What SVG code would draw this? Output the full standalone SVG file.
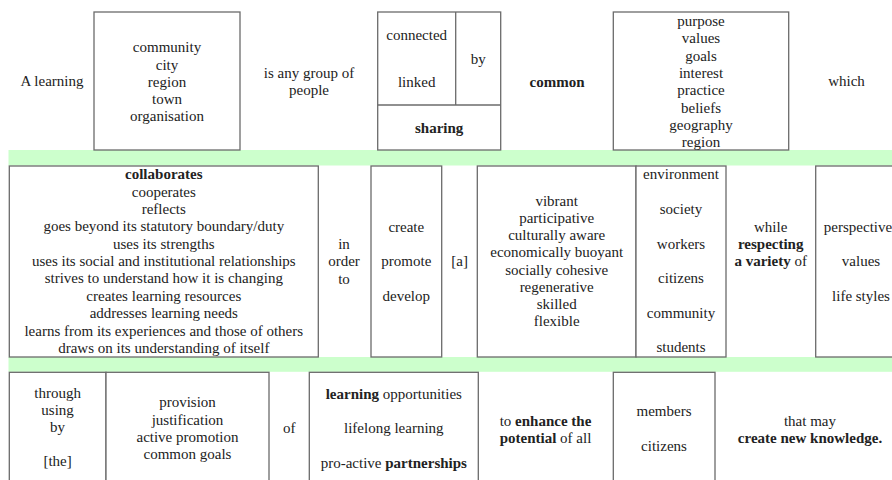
<svg xmlns="http://www.w3.org/2000/svg" width="892" height="480" viewBox="0 0 892 480">
<style>
.box{fill:#fff;stroke:#6b6b6b;stroke-width:1.3}
.ln{fill:none;stroke:#6b6b6b;stroke-width:1.3}
.band{fill:#ccffcc}
.t text{font-size:15px;fill:#222;text-anchor:middle}
.b{font-weight:bold}
</style>
<rect width="892" height="480" fill="#fff"/>
<g id="bands">
<rect class="band" x="8.5" y="150" width="884" height="15.5"/>
<rect class="band" x="8.5" y="357" width="884" height="14.8"/>
</g>
<g class="t" font-family="'Liberation Serif', 'DejaVu Serif', serif">
<!-- Row 1 -->
<g id="t-a-learning"><text x="52" y="86">A learning</text></g>
<g id="n-community">
<rect class="box" x="94" y="12" width="146" height="138"/>
<text x="167" y="52">community</text>
<text x="167" y="69.5">city</text>
<text x="167" y="87">region</text>
<text x="167" y="104">town</text>
<text x="167" y="121">organisation</text>
</g>
<g id="t-group"><text x="309" y="78">is any group of</text><text x="309" y="95">people</text></g>
<g id="n-connected">
<rect class="box" x="377.7" y="12" width="123" height="138"/>
<line class="ln" x1="377.7" y1="105" x2="500.7" y2="105"/>
<line class="ln" x1="455.7" y1="12" x2="455.7" y2="105"/>
<text x="416.7" y="40">connected</text>
<text x="416.7" y="87">linked</text>
<text x="478.2" y="64">by</text>
<text class="b" x="439.2" y="133">sharing</text>
</g>
<g id="t-common"><text class="b" x="557" y="87">common</text></g>
<g id="n-purpose">
<rect class="box" x="613.3" y="12" width="175.4" height="138"/>
<text x="701" y="26">purpose</text>
<text x="701" y="43.3">values</text>
<text x="701" y="60.7">goals</text>
<text x="701" y="78">interest</text>
<text x="701" y="95.3">practice</text>
<text x="701" y="112.6">beliefs</text>
<text x="701" y="130">geography</text>
<text x="701" y="147.3">region</text>
</g>
<g id="t-which"><text x="846.5" y="86">which</text></g>
<!-- Row 2 -->
<g id="n-collaborates">
<rect class="box" x="9.3" y="166" width="309" height="191"/>
<text class="b" x="163.8" y="179.3">collaborates</text>
<text x="163.8" y="196.7">cooperates</text>
<text x="163.8" y="214">reflects</text>
<text x="163.8" y="231.4">goes beyond its statutory boundary/duty</text>
<text x="163.8" y="248.7">uses its strengths</text>
<text x="163.8" y="266">uses its social and institutional relationships</text>
<text x="163.8" y="283.4">strives to understand how it is changing</text>
<text x="163.8" y="300.8">creates learning resources</text>
<text x="163.8" y="318.1">addresses learning needs</text>
<text x="163.8" y="335.5">learns from its experiences and those of others</text>
<text x="163.8" y="352.8">draws on its understanding of itself</text>
</g>
<g id="t-inorder"><text x="344" y="249">in</text><text x="344" y="266.3">order</text><text x="344" y="283.5">to</text></g>
<g id="n-create">
<rect class="box" x="371" y="166" width="70.7" height="191"/>
<text x="406.3" y="231.7">create</text>
<text x="406.3" y="266.3">promote</text>
<text x="406.3" y="300.7">develop</text>
</g>
<g id="t-a"><text x="459.6" y="266.3">[a]</text></g>
<g id="n-vibrant">
<rect class="box" x="477.3" y="166" width="158.7" height="191"/>
<text x="556.7" y="205.8">vibrant</text>
<text x="556.7" y="223">participative</text>
<text x="556.7" y="240.1">culturally aware</text>
<text x="556.7" y="257.3">economically buoyant</text>
<text x="556.7" y="274.5">socially cohesive</text>
<text x="556.7" y="291.6">regenerative</text>
<text x="556.7" y="308.8">skilled</text>
<text x="556.7" y="326">flexible</text>
</g>
<g id="n-environment">
<rect class="box" x="636" y="166" width="90" height="191"/>
<text x="681" y="179.3">environment</text>
<text x="681" y="213.9">society</text>
<text x="681" y="248.5">workers</text>
<text x="681" y="283.1">citizens</text>
<text x="681" y="317.7">community</text>
<text x="681" y="352.3">students</text>
</g>
<g id="t-while">
<text x="770.7" y="231.7">while</text>
<text class="b" x="770.7" y="249">respecting</text>
<text x="770.7" y="266.3"><tspan class="b">a variety</tspan> of</text>
</g>
<g id="n-perspectives">
<rect class="box" x="815.7" y="166" width="90" height="191"/>
<text x="858" y="231.7">perspective</text>
<text x="861" y="266.3">values</text>
<text x="861" y="300.7">life styles</text>
</g>
<!-- Row 3 -->
<g id="n-through">
<rect class="box" x="9.3" y="372.3" width="96.7" height="120"/>
<text x="57.6" y="398">through</text>
<text x="57.6" y="415">using</text>
<text x="57.6" y="432">by</text>
<text x="57.6" y="466">[the]</text>
</g>
<g id="n-provision">
<rect class="box" x="106" y="372.3" width="163" height="120"/>
<text x="187.5" y="407.3">provision</text>
<text x="187.5" y="424.6">justification</text>
<text x="187.5" y="441.9">active promotion</text>
<text x="187.5" y="459.2">common goals</text>
</g>
<g id="t-of"><text x="289.2" y="433.3">of</text></g>
<g id="n-learning">
<rect class="box" x="309.3" y="372.3" width="169" height="120"/>
<text x="393.8" y="398.6"><tspan class="b">learning</tspan> opportunities</text>
<text x="393.8" y="433.2">lifelong learning</text>
<text x="393.8" y="467.8">pro-active <tspan class="b">partnerships</tspan></text>
</g>
<g id="t-enhance">
<text x="545.5" y="425.5">to <tspan class="b">enhance the</tspan></text>
<text x="545.5" y="442.8"><tspan class="b">potential</tspan> of all</text>
</g>
<g id="n-members">
<rect class="box" x="613.3" y="372.3" width="101.7" height="120"/>
<text x="664" y="416">members</text>
<text x="664" y="450.6">citizens</text>
</g>
<g id="t-create">
<text x="810" y="425.5">that may</text>
<text class="b" x="810" y="442.8">create new knowledge.</text>
</g>
</g>
<g id="connectors"></g>
</svg>
